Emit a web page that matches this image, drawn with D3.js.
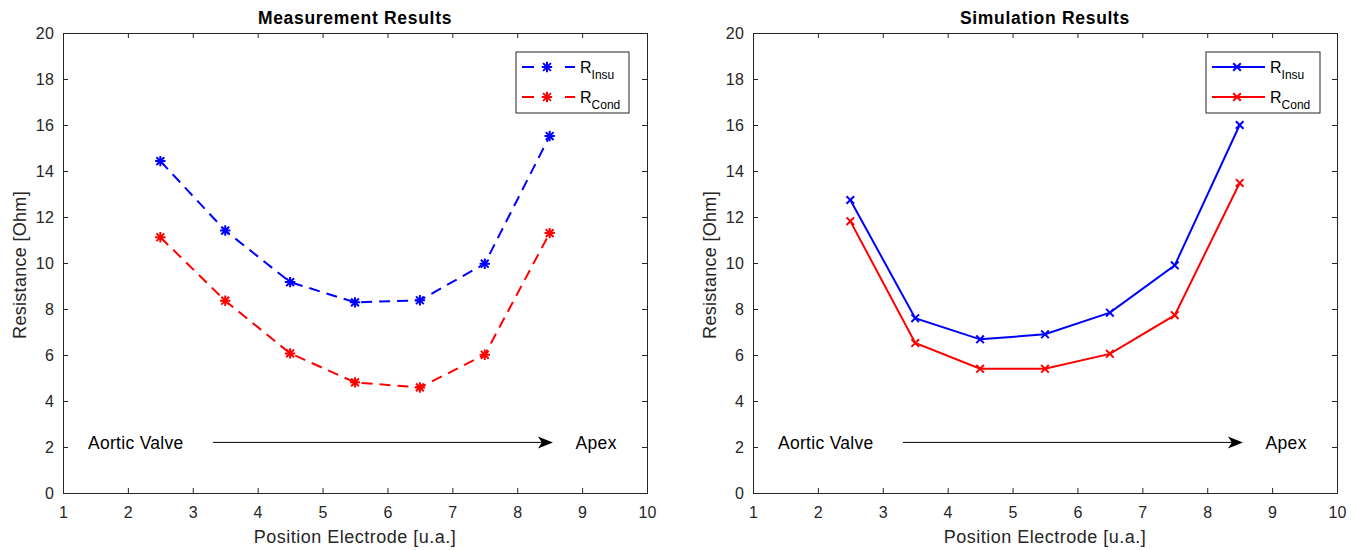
<!DOCTYPE html>
<html><head><meta charset="utf-8">
<script src="https://cdn.jsdelivr.net/npm/d3@7"></script>
<style>body{margin:0;background:#fff}svg{display:block}text{font-family:"Liberation Sans",Arial,sans-serif}</style>
</head><body><svg id="c" width="1357" height="550"></svg>
<script>
const positions = [2.5, 3.5, 4.5, 5.5, 6.5, 7.5, 8.5];
const measInsu = [14.43, 11.41, 9.17, 8.29, 8.38, 9.97, 15.52];
const measCond = [11.12, 8.36, 6.07, 4.81, 4.59, 6.01, 11.30];
const simInsu = [12.74, 7.6, 6.68, 6.9, 7.84, 9.9, 16.0];
const simCond = [11.82, 6.52, 5.4, 5.4, 6.05, 7.73, 13.48];
const xTicks = [1,2,3,4,5,6,7,8,9,10];
const yTicks = [0,2,4,6,8,10,12,14,16,18,20];
const titles = ["Measurement Results", "Simulation Results"];
const seriesNames = ["Insu", "Cond"];
const colors = ["#0000ff", "#ff0000"];

const svg = d3.select("#c");
const axc = "#262626";
const panels = [
  {x0: 63, x1: 647, title: titles[0], data: [measInsu, measCond], dashed: true, marker: "star"},
  {x0: 753, x1: 1337, title: titles[1], data: [simInsu, simCond], dashed: false, marker: "x"}
];
const yTop = 33, yBot = 493;

function drawMarker(g, type, cx, cy, color) {
  let d;
  if (type === "star") {
    const s = 5.2, q = s * 0.75;
    d = `M${cx-s},${cy}L${cx+s},${cy}M${cx},${cy-s}L${cx},${cy+s}` +
        `M${cx-q},${cy-q}L${cx+q},${cy+q}M${cx-q},${cy+q}L${cx+q},${cy-q}`;
  } else {
    const t = 3.8;
    d = `M${cx-t},${cy-t}L${cx+t},${cy+t}M${cx-t},${cy+t}L${cx+t},${cy-t}`;
  }
  g.append("path").attr("d", d).attr("stroke", color).attr("stroke-width", 2).attr("fill", "none");
}

panels.forEach(p => {
  const x = d3.scaleLinear().domain([1, 10]).range([p.x0, p.x1]);
  const y = d3.scaleLinear().domain([0, 20]).range([yBot, yTop]);
  const g = svg.append("g");

  const ax = g.append("g").attr("transform", `translate(0,${yBot})`)
    .call(d3.axisBottom(x).tickValues(xTicks).tickSize(-5).tickPadding(14).tickFormat(d3.format("d")));
  const axT = g.append("g").attr("transform", `translate(0,${yTop})`)
    .call(d3.axisTop(x).tickValues(xTicks).tickSize(-5).tickFormat(""));
  const ay = g.append("g").attr("transform", `translate(${p.x0},0)`)
    .call(d3.axisLeft(y).tickValues(yTicks).tickSize(-5).tickPadding(9).tickFormat(d3.format("d")));
  const ayR = g.append("g").attr("transform", `translate(${p.x1},0)`)
    .call(d3.axisRight(y).tickValues(yTicks).tickSize(-5).tickFormat(""));
  [ax, axT, ay, ayR].forEach(a => {
    a.select(".domain").attr("stroke", axc).attr("stroke-width", 1);
    a.selectAll(".tick line").attr("stroke", axc).attr("stroke-width", 1);
    a.selectAll(".tick text").attr("fill", axc).style("font-size", "16px").style("letter-spacing", "0.2px")
      .style("font-family", '"Liberation Sans",Arial,sans-serif');
  });

  g.append("text").attr("x", (p.x0 + p.x1) / 2).attr("y", 24).attr("text-anchor", "middle")
    .style("font-size", "17.5px").style("letter-spacing", "0.7px").style("font-weight", "bold").attr("fill", "#000").text(p.title);
  g.append("text").attr("x", (p.x0 + p.x1) / 2).attr("y", 543).attr("text-anchor", "middle")
    .style("font-size", "18px").style("letter-spacing", "0.5px").attr("fill", axc).text("Position Electrode [u.a.]");
  g.append("text").attr("transform", `translate(${p.x0 - 37},${(yTop + yBot) / 2 + 2}) rotate(-90)`)
    .attr("text-anchor", "middle").style("font-size", "18px").style("letter-spacing", "0.3px").attr("fill", axc).text("Resistance [Ohm]");

  const ay2 = y(2.2);
  g.append("text").attr("x", x(1.385)).attr("y", ay2 + 6.5).style("font-size", "17.5px").style("letter-spacing", "0.3px").attr("fill", "#000").text("Aortic Valve");
  g.append("text").attr("x", x(8.9)).attr("y", ay2 + 6.5).style("font-size", "17.5px").style("letter-spacing", "0.3px").attr("fill", "#000").text("Apex");
  const ax1 = x(3.31), ax2 = x(8.55);
  g.append("line").attr("x1", ax1).attr("x2", ax2 - 8).attr("y1", ay2).attr("y2", ay2).attr("stroke", "#000").attr("stroke-width", 1);
  g.append("path").attr("d", `M${ax2},${ay2}L${ax2-15},${ay2-6}L${ax2-11},${ay2}L${ax2-15},${ay2+6}Z`).attr("fill", "#000");

  const line = d3.line().x((d, i) => x(positions[i])).y(d => y(d));
  p.data.forEach((vals, k) => {
    g.append("path").datum(vals).attr("d", line).attr("fill", "none")
      .attr("stroke", colors[k]).attr("stroke-width", 2)
      .attr("stroke-dasharray", p.dashed ? "11,7" : null);
    vals.forEach((v, i) => drawMarker(g, p.marker, x(positions[i]), y(v), colors[k]));
  });

  const lx = p.x1 - 131, ly = 52, lw = p.dashed ? 113 : 114, lh = 61;
  g.append("rect").attr("x", lx).attr("y", ly).attr("width", lw).attr("height", lh)
    .attr("fill", "#fff").attr("stroke", axc).attr("stroke-width", 1);
  seriesNames.forEach((nm, k) => {
    const yy = ly + 15 + k * 30;
    g.append("line").attr("x1", lx + 6).attr("x2", lx + 59).attr("y1", yy).attr("y2", yy)
      .attr("stroke", colors[k]).attr("stroke-width", 2).attr("stroke-dasharray", p.dashed ? "12,31,10" : null);
    drawMarker(g, p.marker, lx + 31, yy, colors[k]);
    const t = g.append("text").attr("x", lx + 64).attr("y", yy + 5.5).style("font-size", "16px").attr("fill", "#000");
    t.append("tspan").text("R");
    t.append("tspan").attr("dy", 6).style("font-size", "12px").text(nm);
  });
});
</script></body></html>
